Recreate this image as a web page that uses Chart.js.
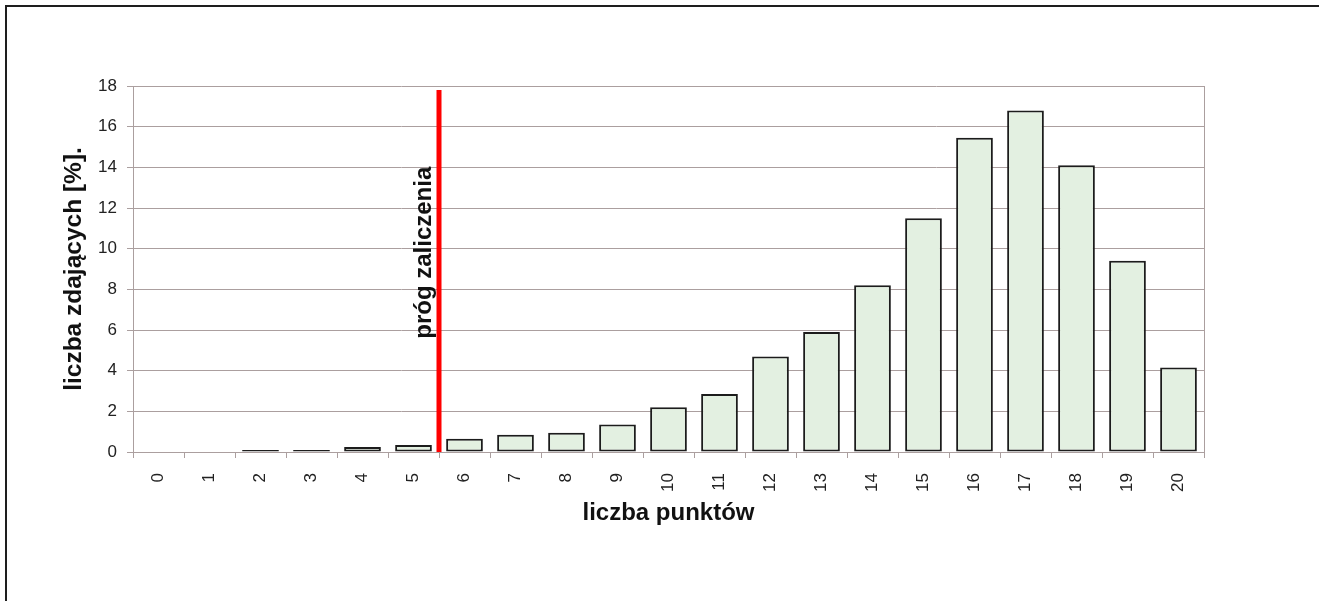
<!DOCTYPE html>
<html lang="pl">
<head>
<meta charset="utf-8">
<title>liczba punktów</title>
<script src="https://cdn.jsdelivr.net/npm/chart.js@4/dist/chart.umd.min.js"></script>
<style>
  html, body { margin: 0; padding: 0; background: #fff; overflow: hidden; }
  #wrap { position: relative; width: 1319px; height: 601px; }
  #frame {
    position: absolute; left: 5px; top: 5px; width: 1400px; height: 700px;
    border: 2px solid #1e1e1e; pointer-events: none;
  }
  canvas { position: absolute; left: 0; top: 0; }
</style>
</head>
<body>
<div id="wrap">
  <canvas id="chart" width="1319" height="601"></canvas>
  <div id="frame"></div>
</div>
<script>
// punkty (kategorie osi X)
const points = ['0', '1', '2', '3', '4', '5', '6', '7', '8', '9', '10',
                '11', '12', '13', '14', '15', '16', '17', '18', '19', '20'];
// odsetek zdających [%]
const percent = [0, 0, 0.1, 0.1, 0.25, 0.35, 0.65, 0.85, 0.95, 1.35, 2.2,
                 2.85, 4.7, 5.9, 8.2, 11.5, 15.45, 16.8, 14.1, 9.4, 4.15];
// podziałka osi Y
const yMin = 0;
const yMax = 18;
const yStep = 2;
// próg zaliczenia: między 5 a 6 punktami
const thresholdAfter = 5;
const thresholdTop = 17.8;
const thresholdText = 'próg zaliczenia';
const thresholdTextAt = 9.8;

const FONT = '"Liberation Sans", Arial, Helvetica, sans-serif';
const GRID = '#ab9f9f';

const thresholdLine = {
    id: 'thresholdLine',
    afterDatasetsDraw(chart) {
        const {ctx, chartArea, scales: {x, y}} = chart;
        const px = x.getPixelForValue(thresholdAfter + 0.5);
        ctx.save();
        // prawa krawędź obszaru wykresu
        ctx.strokeStyle = GRID;
        ctx.lineWidth = 1;
        ctx.beginPath();
        ctx.moveTo(Math.round(chartArea.right) + 0.5, chartArea.top);
        ctx.lineTo(Math.round(chartArea.right) + 0.5, chartArea.bottom);
        ctx.stroke();
        // czerwona linia progu
        ctx.strokeStyle = '#ff0000';
        ctx.lineWidth = 5;
        ctx.beginPath();
        ctx.moveTo(px, y.getPixelForValue(thresholdTop));
        ctx.lineTo(px, y.getPixelForValue(0));
        ctx.stroke();
        // podpis
        ctx.translate(px - 15, y.getPixelForValue(thresholdTextAt));
        ctx.rotate(-Math.PI / 2);
        ctx.fillStyle = '#111';
        ctx.font = 'bold 24px ' + FONT;
        ctx.textAlign = 'center';
        ctx.textBaseline = 'middle';
        ctx.fillText(thresholdText, 0, 0);
        ctx.restore();
    }
};

new Chart(document.getElementById('chart').getContext('2d'), {
    type: 'bar',
    data: {
        labels: points,
        datasets: [{
            data: percent,
            backgroundColor: '#e3f0e1',
            borderColor: '#1c1c1c',
            borderWidth: 2,
            borderSkipped: false,
            barPercentage: 0.72,
            categoryPercentage: 1.0
        }]
    },
    options: {
        responsive: false,
        animation: false,
        devicePixelRatio: 1,
        layout: { padding: { left: 60, top: 86, right: 115, bottom: 73 } },
        plugins: {
            legend: { display: false },
            tooltip: { enabled: false }
        },
        scales: {
            x: {
                grid: {
                    offset: true,
                    drawOnChartArea: false,
                    drawTicks: true,
                    tickLength: 6,
                    color: GRID
                },
                border: { color: GRID, width: 1 },
                ticks: {
                    minRotation: 90,
                    maxRotation: 90,
                    padding: 15,
                    color: '#222',
                    font: { family: FONT, size: 17 }
                },
                title: {
                    display: true,
                    text: 'liczba punktów',
                    color: '#111',
                    padding: 0,
                    font: { family: FONT, size: 24, weight: 'bold' }
                },
                afterFit(scale) { scale.height = 76; }
            },
            y: {
                min: yMin,
                max: yMax,
                grid: {
                    color: GRID,
                    tickLength: 6,
                    drawTicks: true
                },
                border: { color: GRID, width: 1 },
                ticks: {
                    stepSize: yStep,
                    padding: 10,
                    color: '#222',
                    font: { family: FONT, size: 17 }
                },
                title: {
                    display: true,
                    text: 'liczba zdających [%].',
                    color: '#111',
                    padding: 0,
                    font: { family: FONT, size: 24.5, weight: 'bold' }
                },
                afterFit(scale) { scale.width = 73; }
            }
        }
    },
    plugins: [thresholdLine]
});
</script>
</body>
</html>
